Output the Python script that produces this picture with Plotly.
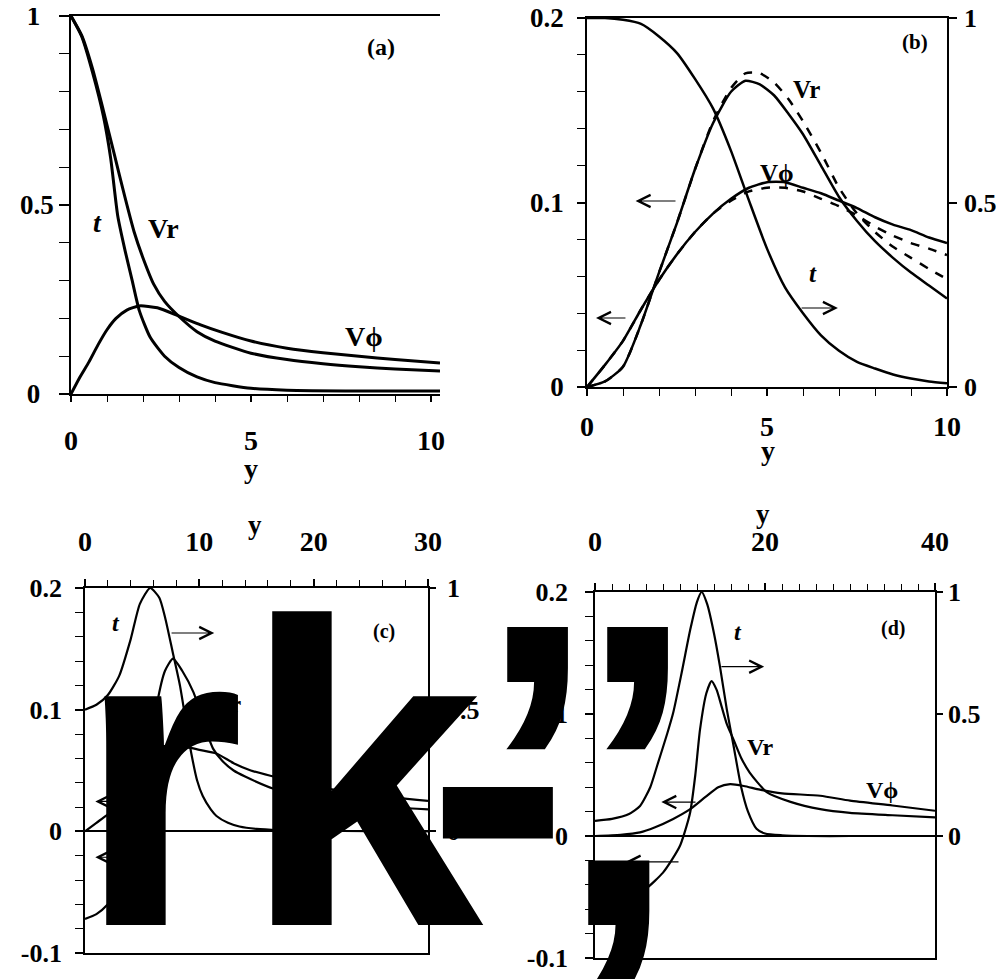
import plotly.graph_objects as go

# The page body adds an 8 px margin, so the figure is drawn 8 px smaller and all
# layout positions are measured from the screenshot's corner minus that margin.
PAGE_W, PAGE_H, OFF = 1004, 979, 8
W, H = PAGE_W - OFF, PAGE_H - OFF

# ---------------- data ----------------
# panel (a)
a_t_y = [0, 0.3, 0.6, 0.9, 1.1, 1.3, 1.5, 1.7, 1.9, 2.2, 2.6, 3.0, 3.5, 4.0, 5.0, 6.0, 8.0, 10.25]
a_t = [1.0, 0.945, 0.85, 0.735, 0.625, 0.47, 0.38, 0.30, 0.22, 0.15, 0.10, 0.07, 0.045, 0.03, 0.015, 0.01, 0.008, 0.008]
a_vr_y = [0, 0.3, 0.6, 0.9, 1.2, 1.5, 1.75, 2.0, 2.3, 2.6, 3.0, 3.5, 4.0, 5.0, 6.0, 7.0, 8.0, 9.0, 10.25]
a_vr = [1.0, 0.948, 0.86, 0.75, 0.635, 0.52, 0.43, 0.36, 0.29, 0.245, 0.205, 0.165, 0.14, 0.108, 0.091, 0.080, 0.072, 0.066, 0.061]
a_vphi_y = [0, 0.25, 0.5, 0.75, 1.0, 1.25, 1.55, 1.9, 2.4, 3.0, 3.6, 4.2, 5.0, 6.0, 7.0, 8.0, 9.0, 10.25]
a_vphi = [0, 0.045, 0.085, 0.13, 0.17, 0.2, 0.222, 0.233, 0.228, 0.206, 0.183, 0.163, 0.14, 0.121, 0.109, 0.1, 0.091, 0.082]

# panel (b)
b_y = [0, 0.5, 1.0, 1.5, 2.0, 2.5, 3.0, 3.5, 4.0, 4.5, 5.0, 5.5, 6.0, 6.5, 7.0, 7.5, 8.0, 8.5, 9.0, 9.5, 10]
b_t = [1.0, 1.0, 0.995, 0.984, 0.95, 0.905, 0.835, 0.755, 0.64, 0.505, 0.375, 0.27, 0.2, 0.14, 0.098, 0.068, 0.05, 0.034, 0.023, 0.015, 0.01]
b_vphi = [0, 0.012, 0.025, 0.042, 0.058, 0.072, 0.084, 0.094, 0.102, 0.108, 0.111, 0.111, 0.108, 0.105, 0.101, 0.097, 0.092, 0.088, 0.085, 0.081, 0.078]
b_vphi_dash = [0, 0.012, 0.025, 0.042, 0.058, 0.072, 0.084, 0.094, 0.101, 0.106, 0.108, 0.108, 0.106, 0.102, 0.098, 0.093, 0.087, 0.082, 0.078, 0.075, 0.0715]
b_vr_y = [0, 0.5, 1.0, 1.5, 2.0, 2.5, 3.0, 3.5, 4.0, 4.4, 4.8, 5.2, 5.6, 6.0, 6.5, 7.0, 7.5, 8.0, 8.5, 9.0, 9.5, 10]
b_vr = [0, 0.003, 0.011, 0.034, 0.062, 0.089, 0.118, 0.143, 0.16, 0.166, 0.164, 0.158, 0.148, 0.137, 0.12, 0.103, 0.09, 0.079, 0.07, 0.062, 0.055, 0.048]
b_vr_dash = [0, 0.003, 0.011, 0.034, 0.062, 0.089, 0.118, 0.144, 0.162, 0.17, 0.17, 0.165, 0.156, 0.144, 0.127, 0.108, 0.094, 0.084, 0.076, 0.07, 0.064, 0.0585]

# panel (c)
c_t_y = [0, 1, 2, 3, 4, 4.8, 5.7, 6.5, 7.0, 7.7, 8.3, 8.9, 9.3, 9.8, 10.3, 11, 11.5, 12.5, 13.5, 15, 17, 20, 25, 30]
c_t = [0.5, 0.52, 0.56, 0.64, 0.79, 0.935, 1.0, 0.96, 0.88, 0.73, 0.6, 0.43, 0.32, 0.21, 0.145, 0.09, 0.063, 0.035, 0.02, 0.01, 0.005, 0.002, 0.001, 0.0]
c_vr_y = [0, 1, 2, 3, 4, 5, 5.7, 6.3, 7.0, 7.7, 8.5, 9.5, 10.5, 11.2, 12, 13, 14, 16.5, 20, 25, 30]
c_vr = [-0.072, -0.068, -0.06, -0.046, -0.022, 0.02, 0.065, 0.105, 0.132, 0.142, 0.132, 0.114, 0.085, 0.068, 0.058, 0.05, 0.045, 0.035, 0.027, 0.021, 0.018]
c_vphi_y = [0, 1, 2, 3, 4, 5, 6, 7, 8, 9, 10, 11.5, 13, 14.5, 16.5, 20, 25, 30]
c_vphi = [0, 0.007, 0.014, 0.022, 0.032, 0.044, 0.056, 0.065, 0.07, 0.069, 0.067, 0.064, 0.056, 0.05, 0.045, 0.037, 0.03, 0.025]

# panel (d)
d_t_y = [0, 2, 4, 5.3, 6.5, 7.3, 8.5, 9.2, 10.2, 11.2, 12, 12.55, 13.2, 14, 14.7, 15.5, 16.3, 17.2, 18, 19, 20, 22, 25, 30, 40]
d_t = [0.062, 0.07, 0.09, 0.123, 0.2, 0.287, 0.42, 0.505, 0.67, 0.845, 0.96, 1.0, 0.95, 0.83, 0.695, 0.52, 0.37, 0.2, 0.1, 0.03, 0.01, 0.003, 0.0, 0.0, 0.0]
d_vr_y = [0, 2, 4, 6, 8, 9, 10, 10.5, 11.2, 11.8, 12.35, 13.1, 13.7, 14.3, 14.9, 15.5, 16.3, 17.2, 18.2, 20.2, 23, 26.5, 30, 35, 40]
d_vr = [-0.05, -0.05, -0.048, -0.043, -0.03, -0.02, -0.008, 0.002, 0.0195, 0.05, 0.087, 0.117, 0.127, 0.12, 0.106, 0.092, 0.079, 0.064, 0.052, 0.036, 0.028, 0.022, 0.019, 0.017, 0.0152]
d_vphi_y = [0, 3, 5.3, 7, 9.2, 11.2, 13, 14.5, 15.9, 17.5, 19.4, 22, 26.5, 30, 35, 40]
d_vphi = [0, 0.001, 0.003, 0.007, 0.014, 0.022, 0.032, 0.04, 0.0425, 0.041, 0.038, 0.035, 0.033, 0.029, 0.025, 0.0207]

# tick labels
ab_x_ticks = [0, 5, 10]
c_x_ticks = [0, 10, 20, 30]
d_x_ticks = [0, 20, 40]
left_cd_vals = [-0.1, 0, 0.1, 0.2]
left_cd_text = ["-0.1", "0", "0.1", "0.2"]
right_vals = [0, 0.5, 1]
right_text = ["0", "0.5", "1"]

overlay_glyphs = ["r", "k", "-", "\u2019", "\u2019", ","]

# ---------------- figure ----------------
SERIF = "Liberation Serif"
BLK = "black"


def tf(sz):
    return dict(family=SERIF, size=sz, color=BLK, weight="bold")


def dx(px):
    return (px - OFF) / W


def dy(py):
    return 1 - (py - OFF) / H


def P(px, py):
    return dx(px), dy(py)


fig = go.Figure()


def line(x, y, xa, ya, w=2.6, dash="solid"):
    fig.add_trace(go.Scatter(x=x, y=y, xaxis=xa, yaxis=ya, mode="lines",
                             line=dict(color=BLK, width=w, dash=dash, shape="spline", smoothing=0.6),
                             hoverinfo="skip", showlegend=False))


line(a_t_y, a_t, "x", "y", 3)
line(a_vr_y, a_vr, "x", "y", 3)
line(a_vphi_y, a_vphi, "x", "y", 3)

line(b_y, b_t, "x2", "y3", 2.5)
line(b_vr_y, b_vr, "x2", "y2", 2.5)
line(b_vr_y, b_vr_dash, "x2", "y2", 2.5, "dash")
line(b_y, b_vphi, "x2", "y2", 2.5)
line(b_y, b_vphi_dash, "x2", "y2", 2.5, "dash")

line(c_t_y, c_t, "x3", "y5", 2.2)
line(c_vr_y, c_vr, "x3", "y4", 2.2)
line(c_vphi_y, c_vphi, "x3", "y4", 2.2)

line(d_t_y, d_t, "x4", "y7", 2.2)
line(d_vr_y, d_vr, "x4", "y6", 2.2)
line(d_vphi_y, d_vphi, "x4", "y6", 2.2)


def ax_common(**kw):
    d = dict(showline=True, linecolor=BLK, linewidth=1.6, showgrid=False, zeroline=False,
             ticks="outside", tickcolor=BLK, tickwidth=1.5, automargin=False,
             ticklabeloverflow="allow")
    d.update(kw)
    return d


def minor(dt, ln, t0=0):
    return dict(tickmode="linear", tick0=t0, dtick=dt, ticks="outside", ticklen=ln,
                tickwidth=1.3, tickcolor=BLK, showgrid=False)


fig.update_layout(
    template="none",
    width=W, height=H, margin=dict(l=0, r=0, t=0, b=0, autoexpand=False),
    paper_bgcolor="white", plot_bgcolor="white", showlegend=False,
    # (a)
    xaxis=ax_common(domain=[dx(71), dx(440)], range=[0, 10.25], anchor="y", mirror=True,
                    tickvals=ab_x_ticks, ticklen=6, minor=minor(1, 6), tickfont=tf(28),
                    ticklabelstandoff=15),
    yaxis=ax_common(domain=[dy(394), dy(16)], range=[0, 1], anchor="x",
                    tickvals=right_vals, ticktext=["0\u2002", "0.5", "1\u2002"], ticklen=10,
                    minor=minor(0.1, 10), tickfont=tf(27)),
    # (b)
    xaxis2=ax_common(domain=[dx(587), dx(947)], range=[0, 10], anchor="y2", mirror=True,
                     tickvals=ab_x_ticks, ticklen=7, minor=minor(1, 7), tickfont=tf(28),
                     ticklabelstandoff=7),
    yaxis2=ax_common(domain=[dy(387), dy(18)], range=[0, 0.2], anchor="x2",
                     tickvals=[0, 0.1, 0.2], ticktext=["0", "0.1", "0.2"], ticklen=8,
                     minor=minor(0.02, 8), tickfont=tf(27), ticklabelstandoff=8),
    yaxis3=ax_common(overlaying="y2", side="right", anchor="x2", range=[0, 1],
                     tickvals=right_vals, ticktext=right_text, ticklen=8, tickfont=tf(26),
                     ticklabelstandoff=2),
    # (c)
    xaxis3=ax_common(domain=[dx(85), dx(428)], range=[0, 30], anchor="y4", side="top", mirror=True,
                     tickvals=c_x_ticks, ticklen=7, minor=minor(2, 6), tickfont=tf(28),
                     ticklabelstandoff=17),
    yaxis4=ax_common(domain=[dy(953), dy(588)], range=[-0.1, 0.2], anchor="x3",
                     tickvals=left_cd_vals, ticktext=left_cd_text, ticklen=8,
                     minor=minor(0.02, 8), tickfont=tf(26), ticklabelstandoff=8,
                     zeroline=True, zerolinecolor=BLK, zerolinewidth=1.5),
    yaxis5=ax_common(overlaying="y4", side="right", anchor="x3", range=[-0.5, 1],
                     tickvals=right_vals, ticktext=right_text, ticklen=6, tickfont=tf(26),
                     ticklabelstandoff=6),
    # (d)
    xaxis4=ax_common(domain=[dx(595), dx(935)], range=[0, 40], anchor="y6", side="top", mirror=True,
                     tickvals=d_x_ticks, ticklen=7, minor=minor(2, 6), tickfont=tf(28),
                     ticklabelstandoff=21),
    yaxis6=ax_common(domain=[dy(958), dy(592)], range=[-0.1, 0.2], anchor="x4",
                     tickvals=left_cd_vals, ticktext=left_cd_text, ticklen=8,
                     minor=minor(0.02, 8), tickfont=tf(26), ticklabelstandoff=12,
                     zeroline=True, zerolinecolor=BLK, zerolinewidth=1.5),
    yaxis7=ax_common(overlaying="y6", side="right", anchor="x4", range=[-0.5, 1],
                     tickvals=right_vals, ticktext=right_text, ticklen=6, tickfont=tf(26),
                     ticklabelstandoff=0),
)

anns = []


def label(text, px, py, sz, italic=False):
    x, y = P(px, py)
    f = tf(sz)
    if italic:
        f["style"] = "italic"
    anns.append(dict(text=text, x=x, y=y, xref="paper", yref="paper", showarrow=False,
                     xanchor="center", yanchor="middle", font=f))


# axis titles (y) of the four panels
label("y", 251, 468, 28)
label("y", 768, 450, 28)
label("y", 255, 525, 27)
label("y", 763, 514, 27)

# panel labels and curve names
label("(a)", 381, 47, 24)
label("t", 97, 223, 28, True)
label("Vr", 163, 228, 28)
label("V\u03d5", 364, 336, 28)

label("(b)", 915, 42, 21)
label("Vr", 806, 89, 25)
label("V\u03d5", 777, 173, 25)
label("t", 813, 273, 25, True)

label("(c)", 384, 631, 20)
label("t", 116, 623, 24, True)
label("Vr", 228, 704, 24)

label("(d)", 893, 628, 20)
label("t", 738, 632, 24, True)
label("Vr", 760, 747, 24)
label("V\u03d5", 882, 790, 24)


def arrow(xa, ya, x_tail, x_head, yv):
    anns.append(dict(x=x_head, y=yv, ax=x_tail, ay=yv, xref=xa, yref=ya, axref=xa, ayref=ya,
                     text="", showarrow=True, arrowhead=5, arrowsize=2.2, arrowwidth=1.1,
                     arrowcolor=BLK, standoff=0, startstandoff=0))


arrow("x2", "y2", 2.5, 1.35, 0.1008)
arrow("x2", "y2", 1.11, 0.25, 0.0374)
arrow("x2", "y2", 5.92, 6.97, 0.0428)

arrow("x3", "y4", 7.44, 11.3, 0.163)
arrow("x3", "y4", 4.8, 0.9, 0.0246)
arrow("x3", "y4", 4.8, 0.9, -0.0213)

arrow("x4", "y6", 14.7, 19.9, 0.1388)
arrow("x4", "y6", 12.0, 7.8, 0.0278)
arrow("x4", "y6", 10.0, 3.6, -0.0212)

# overlay glyphs (large black text on top of the figure)
glyph_px = [74, 240, 424, 475, 575, 556]
S = 433
for g, gx in zip(overlay_glyphs, glyph_px):
    x, y = P(gx, 775)
    anns.append(dict(text=g, x=x, y=y, xref="paper", yref="paper", showarrow=False,
                     xanchor="left", yanchor="middle",
                     font=dict(family="Liberation Sans", size=S, color=BLK, weight="bold")))

fig.update_layout(annotations=anns)
fig.write_html("out.html")
